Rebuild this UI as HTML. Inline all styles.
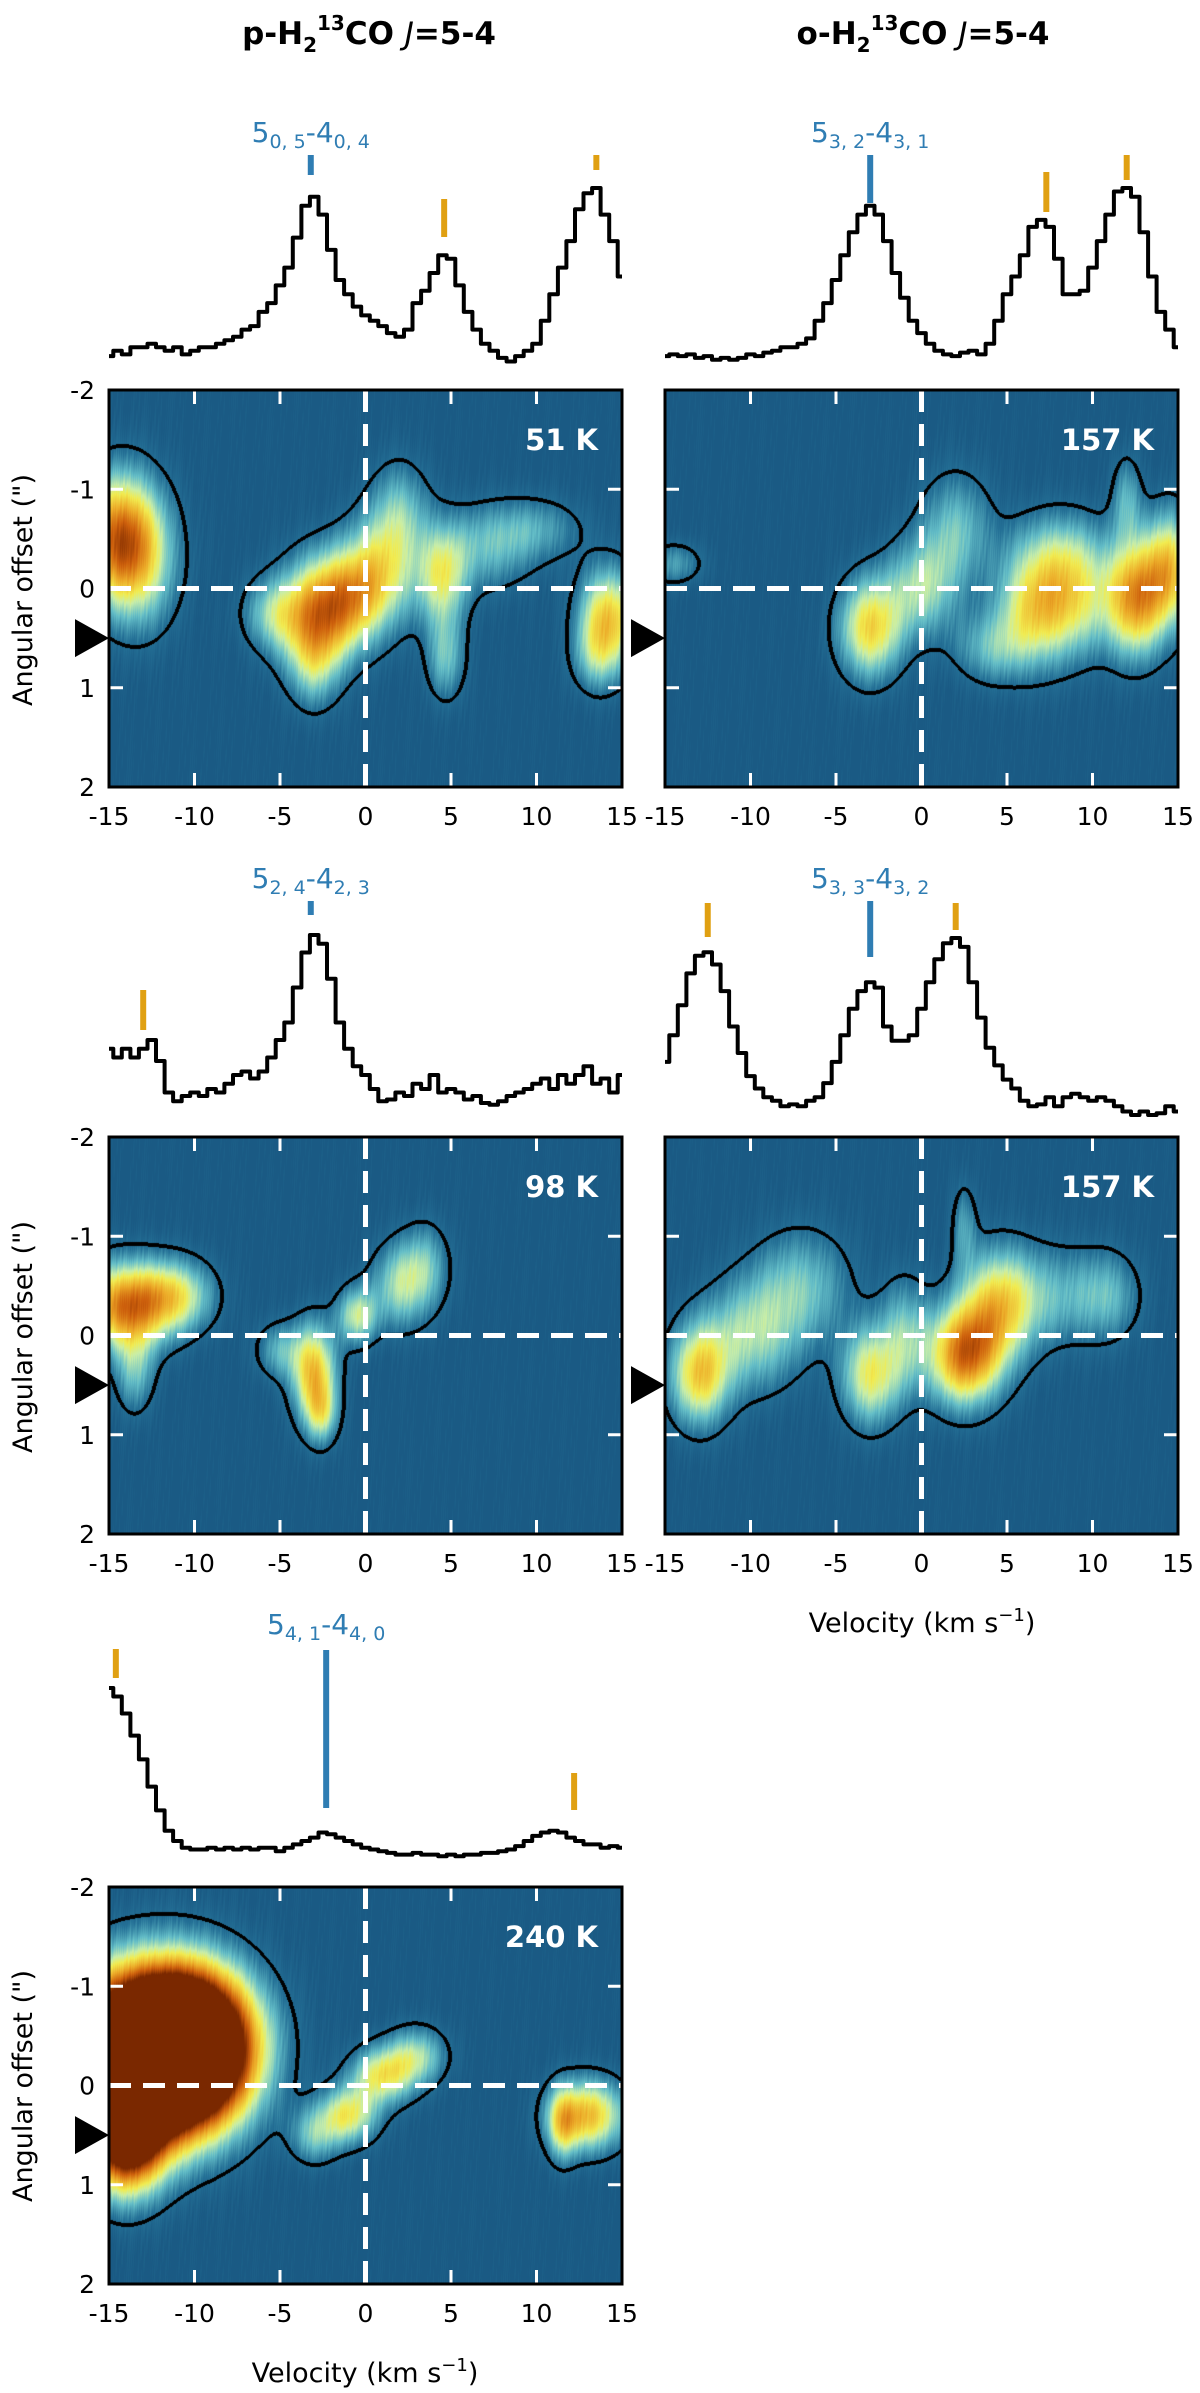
<!DOCTYPE html>
<html><head><meta charset="utf-8">
<style>
html,body{margin:0;padding:0;background:#fff;}
#root{position:relative;width:1200px;height:2393px;overflow:hidden;font-family:"DejaVu Sans","Liberation Sans",sans-serif;}
canvas{position:absolute;}
svg{position:absolute;left:0;top:0;}
</style></head>
<body>
<div id="root">
<canvas id="c1"></canvas>
<canvas id="c2"></canvas>
<canvas id="c3"></canvas>
<canvas id="c4"></canvas>
<canvas id="c5"></canvas>
<svg id="ov" width="1200" height="2393" font-family="DejaVu Sans, Liberation Sans, sans-serif">
<text x="369" y="44" text-anchor="middle" font-size="31" font-weight="bold">p-H<tspan font-size="20" dy="8">2</tspan><tspan font-size="20" dy="-22">13</tspan><tspan dy="14">CO </tspan><tspan font-style="italic" font-weight="normal">J</tspan>=5-4</text>
<text x="923" y="44" text-anchor="middle" font-size="31" font-weight="bold">o-H<tspan font-size="20" dy="8">2</tspan><tspan font-size="20" dy="-22">13</tspan><tspan dy="14">CO </tspan><tspan font-style="italic" font-weight="normal">J</tspan>=5-4</text>
<text transform="translate(32,590) rotate(-90)" text-anchor="middle" font-size="27">Angular offset (")</text>
<text transform="translate(32,1337) rotate(-90)" text-anchor="middle" font-size="27">Angular offset (")</text>
<text transform="translate(32,2086) rotate(-90)" text-anchor="middle" font-size="27">Angular offset (")</text>
<text x="922" y="1632" text-anchor="middle" font-size="27">Velocity (km s<tspan font-size="18" dy="-11">−1</tspan><tspan dy="11">)</tspan></text>
<text x="365" y="2382" text-anchor="middle" font-size="27">Velocity (km s<tspan font-size="18" dy="-11">−1</tspan><tspan dy="11">)</tspan></text>
</svg>
</div>
<script>
// ---- data ----
const velocityTicks = [-15,-10,-5,0,5,10,15];
const offsetTicks = [-2,-1,0,1,2];
const specVel = []; for (let i=0;i<=60;i++) specVel.push(-15+i*0.5);
const spec1 = [0.05,0.08,0.06,0.1,0.1,0.12,0.1,0.08,0.1,0.06,0.08,0.1,0.1,0.12,0.14,0.16,0.2,0.22,0.3,0.35,0.45,0.55,0.72,0.9,0.95,0.85,0.65,0.48,0.4,0.33,0.28,0.25,0.22,0.18,0.16,0.2,0.35,0.42,0.52,0.62,0.6,0.45,0.3,0.2,0.12,0.08,0.04,0.02,0.05,0.08,0.12,0.25,0.4,0.55,0.7,0.88,0.97,1.0,0.85,0.7,0.5];
const spec2 = [0.05,0.06,0.05,0.06,0.04,0.05,0.03,0.04,0.03,0.04,0.06,0.05,0.07,0.08,0.1,0.1,0.12,0.15,0.25,0.35,0.48,0.62,0.75,0.85,0.9,0.85,0.7,0.52,0.38,0.25,0.18,0.12,0.08,0.06,0.05,0.07,0.08,0.06,0.12,0.25,0.4,0.5,0.62,0.78,0.82,0.78,0.6,0.4,0.4,0.42,0.55,0.7,0.85,0.98,1.0,0.95,0.75,0.5,0.3,0.2,0.1];
const spec3 = [0.35,0.3,0.35,0.3,0.35,0.4,0.28,0.1,0.05,0.08,0.1,0.08,0.12,0.1,0.15,0.2,0.22,0.18,0.22,0.3,0.4,0.5,0.7,0.9,1.0,0.95,0.75,0.5,0.35,0.25,0.2,0.12,0.05,0.06,0.1,0.08,0.15,0.12,0.2,0.1,0.12,0.1,0.06,0.08,0.04,0.03,0.05,0.08,0.1,0.12,0.15,0.18,0.12,0.2,0.15,0.2,0.25,0.15,0.18,0.1,0.2];
const spec4 = [0.3,0.45,0.62,0.8,0.9,0.92,0.85,0.7,0.5,0.35,0.22,0.15,0.1,0.08,0.05,0.06,0.05,0.08,0.1,0.18,0.3,0.45,0.6,0.7,0.75,0.72,0.5,0.42,0.42,0.45,0.6,0.75,0.88,0.97,1.0,0.95,0.75,0.55,0.38,0.28,0.2,0.15,0.08,0.05,0.06,0.1,0.05,0.1,0.12,0.1,0.08,0.1,0.08,0.05,0.02,0.0,0.02,0.0,0.01,0.05,0.02];
const spec5 = [1.0,0.95,0.85,0.72,0.58,0.42,0.28,0.16,0.1,0.06,0.05,0.05,0.06,0.05,0.06,0.05,0.06,0.05,0.06,0.06,0.04,0.06,0.08,0.1,0.12,0.15,0.14,0.12,0.1,0.08,0.06,0.05,0.04,0.03,0.02,0.02,0.03,0.02,0.02,0.01,0.02,0.01,0.02,0.02,0.03,0.03,0.04,0.05,0.07,0.1,0.13,0.15,0.16,0.15,0.12,0.1,0.08,0.08,0.06,0.07,0.06];
// blobs: [velocity, offset, amplitude, sigmaV, sigmaOffset]
const blobs1 = [[-14.5,-0.5,1.0,1.5,0.45],[-13,-0.3,0.5,1.5,0.5],[-3,0.3,0.85,1.5,0.4],[-1,0.1,0.7,1.5,0.35],[1,-0.2,0.6,1.5,0.4],[2,-0.8,0.35,1.2,0.35],[4.5,-0.1,0.6,1,0.35],[4.7,0.7,0.4,0.8,0.3],[7,-0.4,0.35,2,0.3],[10,-0.6,0.28,2,0.22],[-3,0.8,0.3,1,0.3],[-5.5,0.25,0.4,1.2,0.25],[14.2,0.3,0.85,1.2,0.35],[13.5,0.7,0.3,1,0.25]];
const blobs2 = [[-3,0.4,0.8,1.3,0.35],[0,0,0.5,1.5,0.35],[2,-0.6,0.4,1.5,0.4],[6.5,0.2,0.7,1.5,0.4],[9,0.1,0.6,1.5,0.4],[12.5,0.1,1.0,1.2,0.4],[14.5,-0.2,0.8,1,0.4],[12,-0.9,0.35,0.6,0.3],[8,-0.4,0.3,2,0.3],[-14.5,-0.25,0.3,1.2,0.15],[4,0.6,0.35,1.5,0.25]];
const blobs3 = [[-14,-0.3,1.1,1.8,0.3],[-11,-0.4,0.6,1.5,0.25],[-13.5,0.35,0.4,0.8,0.3],[-3,0.4,0.9,0.9,0.35],[-2.5,0.8,0.4,0.6,0.2],[-5,0.15,0.35,1,0.2],[-0.5,-0.2,0.6,0.8,0.2],[2,-0.5,0.5,1.2,0.3],[3.5,-0.7,0.35,1,0.3]];
const blobs4 = [[-13,0.4,0.8,1.2,0.35],[-10,0,0.5,2,0.4],[-7,-0.5,0.4,2,0.4],[-3,0.4,0.7,1.2,0.35],[-1,0,0.4,1,0.4],[2.5,0.2,1.1,1.5,0.35],[4.5,-0.3,0.7,1.5,0.4],[8,-0.4,0.35,2.5,0.35],[11,-0.4,0.25,1.2,0.3],[2.5,-1.1,0.3,0.5,0.3]];
const blobs5 = [[-13,-0.3,3,3,0.55],[-10,-0.4,2,2.5,0.5],[-14,0.5,1.5,1.5,0.4],[-1,0.3,0.7,1.2,0.2],[1,-0.1,0.7,1.3,0.2],[3,-0.3,0.5,1.2,0.2],[-3,0.5,0.4,1,0.2],[13,0.3,0.9,1.5,0.25],[11.5,0.4,0.5,0.6,0.25]];
const temps = ["51 K","157 K","98 K","157 K","240 K"];
const lineLabels = [["0, 5","0, 4"],["3, 2","3, 1"],["2, 4","2, 3"],["3, 3","3, 2"],["4, 1","4, 0"]];
// markers: [velocity, color, top y, bottom y]
const markers1 = [[-3.2,"b",155,175],[4.6,"o",199,237],[13.5,"o",155,170]];
const markers2 = [[-3,"b",155,203],[7.3,"o",172,212],[12,"o",155,180]];
const markers3 = [[-3.2,"b",901,915],[-13,"o",990,1030]];
const markers4 = [[-12.5,"o",903,937],[-3,"b",901,957],[2,"o",903,930]];
const markers5 = [[-14.6,"o",1649,1678],[-2.3,"b",1650,1808],[12.2,"o",1773,1810]];

const W=513, H=397;
const panels = [
 {x:109,y:390,blobs:blobs1,spec:spec1,sb:365,st:188,mk:markers1,ll:lineLabels[0],lx:-3.2,ly:142,t:temps[0],yl:true},
 {x:665,y:390,blobs:blobs2,spec:spec2,sb:365,st:188,mk:markers2,ll:lineLabels[1],lx:-3,ly:142,t:temps[1],yl:false},
 {x:109,y:1137,blobs:blobs3,spec:spec3,sb:1110,st:935,mk:markers3,ll:lineLabels[2],lx:-3.2,ly:888,t:temps[2],yl:true},
 {x:665,y:1137,blobs:blobs4,spec:spec4,sb:1115,st:938,mk:markers4,ll:lineLabels[3],lx:-3,ly:888,t:temps[3],yl:false},
 {x:109,y:1887,blobs:blobs5,spec:spec5,sb:1858,st:1688,mk:markers5,ll:lineLabels[4],lx:-2.3,ly:1634,t:temps[4],yl:true}
];
const stops=[[0,[26,90,132]],[0.12,[36,112,150]],[0.28,[100,190,200]],[0.42,[200,238,170]],[0.52,[242,236,80]],[0.68,[236,170,40]],[0.84,[205,95,12]],[1,[122,40,0]]];
function cmap(f){f=Math.max(0,Math.min(1,f));for(let i=1;i<stops.length;i++){if(f<=stops[i][0]){const a=stops[i-1],b=stops[i];const t=(f-a[0])/(b[0]-a[0]);return [0,1,2].map(k=>a[1][k]+(b[1][k]-a[1][k])*t);}}return stops[stops.length-1][1];}
const NS="http://www.w3.org/2000/svg";
const ov=document.getElementById('ov');
function el(tag,attrs,parent){const e=document.createElementNS(NS,tag);for(const k in attrs)e.setAttribute(k,attrs[k]);(parent||ov).appendChild(e);return e;}
const TH=0.14, CS=0.7;
panels.forEach((p,idx)=>{
 const xv=v=>p.x+(v+15)/30*W;
 const yo=o=>p.y+(o+2)/4*H;
 const c=document.getElementById('c'+(idx+1));
 c.width=W;c.height=H;c.style.left=p.x+'px';c.style.top=p.y+'px';
 const ctx=c.getContext('2d');const img=ctx.createImageData(W,H);
 const F=new Float32Array(W*H);
 for(let j=0;j<H;j++){const o=-2+4*(j+0.5)/H;for(let i=0;i<W;i++){const v=-15+30*(i+0.5)/W;let f=0;
  for(const b of p.blobs){const dv=(v-b[0])/b[3],dof=(o-b[1])/b[4];f+=b[2]*Math.exp(-0.5*(dv*dv+dof*dof));}
  F[j*W+i]=f;}}
 for(let j=0;j<H;j++)for(let i=0;i<W;i++){const k=j*W+i;let f=F[k];
  const tex=0.035*(Math.sin(i*0.9+Math.sin(j*0.05+i*0.3)*2)*Math.sin(j*0.09+i*1.7));
  let col=cmap(f*CS+tex);
  const m=f>=TH;let edge=false;
  for(let dj=-2;dj<=2&&!edge;dj++)for(let di=-2;di<=2;di++){if(di*di+dj*dj>4)continue;const ii=i+di,jj=j+dj;if(ii<0||jj<0||ii>=W||jj>=H)continue;if((F[jj*W+ii]>=TH)!==m){edge=true;break;}}
  if(edge)col=[0,0,0];
  img.data[4*k]=col[0];img.data[4*k+1]=col[1];img.data[4*k+2]=col[2];img.data[4*k+3]=255;}
 ctx.putImageData(img,0,0);
 const g=el('g',{});
 
 
 const vl=el('line',{x1:xv(0),x2:xv(0),y1:p.y,y2:p.y+H,stroke:'#fff','stroke-width':5,'stroke-dasharray':'22 12'},g);
 
 
 const hl=el('line',{x1:p.x,x2:p.x+W,y1:yo(0),y2:yo(0),stroke:'#fff','stroke-width':5,'stroke-dasharray':'22 12'},g);
 
 
 [-10,-5,5,10].forEach(v=>{el('line',{x1:xv(v),x2:xv(v),y1:p.y,y2:p.y+14,stroke:'#fff','stroke-width':3},g);el('line',{x1:xv(v),x2:xv(v),y1:p.y+H-14,y2:p.y+H,stroke:'#fff','stroke-width':3},g);});
 [-1,1].forEach(o=>{el('line',{x1:p.x,x2:p.x+14,y1:yo(o),y2:yo(o),stroke:'#fff','stroke-width':3},g);el('line',{x1:p.x+W-14,x2:p.x+W,y1:yo(o),y2:yo(o),stroke:'#fff','stroke-width':3},g);});
 const fr=el('rect',{x:p.x,y:p.y,width:W,height:H,fill:'none',stroke:'#000','stroke-width':3},g);
 
 
 velocityTicks.forEach(v=>{const t=el('text',{x:xv(v),y:p.y+H+38,'text-anchor':'middle','font-size':25},g);t.textContent=String(v);
  
  });
 if(p.yl) offsetTicks.forEach(o=>{const t=el('text',{x:p.x-14,y:yo(o)+9,'text-anchor':'end','font-size':25},g);t.textContent=String(o);
  
  });
 const tri=el('polygon',{points:`${p.x-34},${yo(0.5)-19} ${p.x},${yo(0.5)} ${p.x-34},${yo(0.5)+19}`,fill:'#000'},g);
 
 
 const tt=el('text',{x:p.x+W-24,y:p.y+60,'text-anchor':'end','font-size':29,'font-weight':'bold',fill:'#fff'},g);tt.textContent=p.t;
 
 
 const sy=val=>p.sb-val*(p.sb-p.st);
 let d='';specVel.forEach((v,i)=>{const a=Math.max(-15,v-0.25),b=Math.min(15,v+0.25);d+=(i?'L':'M')+xv(a).toFixed(1)+','+sy(p.spec[i]).toFixed(1)+'L'+xv(b).toFixed(1)+','+sy(p.spec[i]).toFixed(1);});
 const sp=el('path',{d:d,fill:'none',stroke:'#000','stroke-width':4,'stroke-linejoin':'round'},g);
 
 
 p.mk.forEach(m=>{const l=el('line',{x1:xv(m[0]),x2:xv(m[0]),y1:m[2],y2:m[3],stroke:m[1]==='b'?'#2f7db3':'#e0a012','stroke-width':6},g);
  
  });
 const lt=el('text',{x:xv(p.lx),y:p.ly,'text-anchor':'middle','font-size':28,fill:'#2f7db3'},g);
 lt.innerHTML=`5<tspan font-size="19" dy="6">${p.ll[0]}</tspan><tspan dy="-6">-4</tspan><tspan font-size="19" dy="6">${p.ll[1]}</tspan>`;
 
 
});
</script>
</body></html>
